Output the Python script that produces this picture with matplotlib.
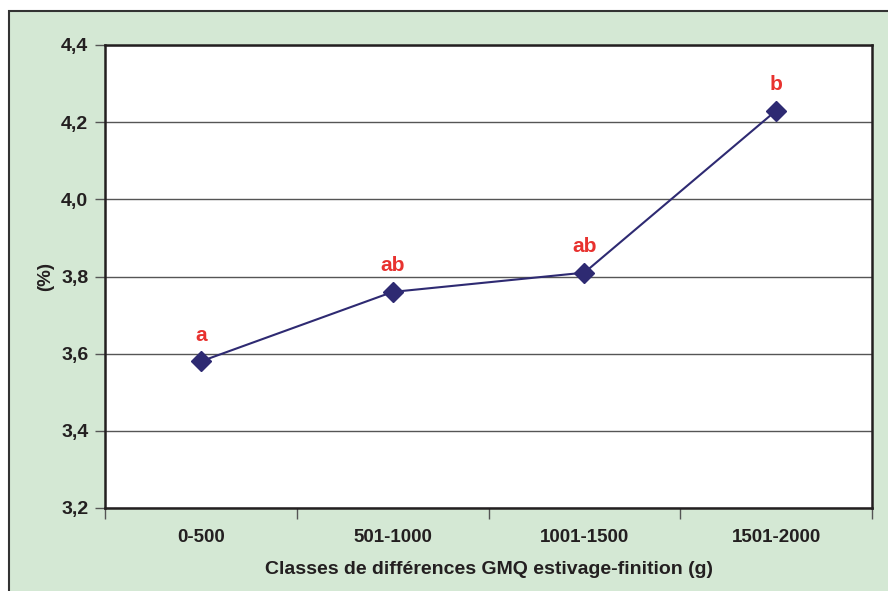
import matplotlib
matplotlib.use("Agg")
import matplotlib.pyplot as plt
from matplotlib.patches import Rectangle

categories = ["0-500", "501-1000", "1001-1500", "1501-2000"]
values = [3.58, 3.76, 3.81, 4.23]
letters = ["a", "ab", "ab", "b"]
yticks = [3.2, 3.4, 3.6, 3.8, 4.0, 4.2, 4.4]

plt.rcParams['font.family'] = ['Liberation Sans', 'DejaVu Sans']
plt.rcParams['font.weight'] = 'bold'

fig = plt.figure(figsize=(8.88, 5.91), dpi=100)
fig.patch.set_facecolor('white')

# fond vert encadré
fond = Rectangle((9 / 888, -0.01), 1.0, 1 - 11 / 591 + 0.01,
                 transform=fig.transFigure, facecolor='#d4e8d4',
                 edgecolor='#333333', linewidth=1.5, zorder=-10)
fig.add_artist(fond)

ax = fig.add_axes([105 / 888, (591 - 508) / 591, 767 / 888, 463 / 591])
ax.set_zorder(5)
ax.set_facecolor('white')

x = range(len(categories))
ax.plot(x, values, color='#2e2a72', linewidth=1.5, marker='D', markersize=10,
        markerfacecolor='#2e2a72', markeredgecolor='#2e2a72', zorder=3)

for i, (v, lab) in enumerate(zip(values, letters)):
    ax.annotate(lab, (i, v), xytext=(0, 12), textcoords='offset points',
                ha='center', va='bottom', color='#e8322f', fontsize=15, fontweight='bold')

ax.set_xlim(-0.5, len(categories) - 0.5)
ax.set_ylim(3.2, 4.4)
ax.set_yticks(yticks)
ax.set_yticklabels([f"{t:.1f}".replace('.', ',') for t in yticks])
ax.yaxis.grid(True, color='#555555', linewidth=1)
ax.set_axisbelow(True)

ax.set_xticks([i - 0.5 for i in range(len(categories) + 1)])
ax.set_xticklabels([])
ax.set_xticks(list(x), minor=True)
ax.set_xticklabels(categories, minor=True)
ax.tick_params(axis='x', which='major', length=8, color='#555555', width=1)
ax.tick_params(axis='x', which='minor', length=0, pad=15, labelsize=13.5, labelcolor='#231f20')
ax.tick_params(axis='y', length=7, color='#555555', width=1, labelsize=14, labelcolor='#231f20', pad=5)

for s in ax.spines.values():
    s.set_color('#231f20')
    s.set_linewidth(1.8)

ax.set_xlabel("Classes de différences GMQ estivage-finition (g)", fontsize=14,
              fontweight='bold', color='#231f20', labelpad=11)
ax.set_ylabel("(%)", fontsize=13.5, fontweight='bold', color='#231f20', labelpad=5)

fig.savefig("out.png", dpi=100)
